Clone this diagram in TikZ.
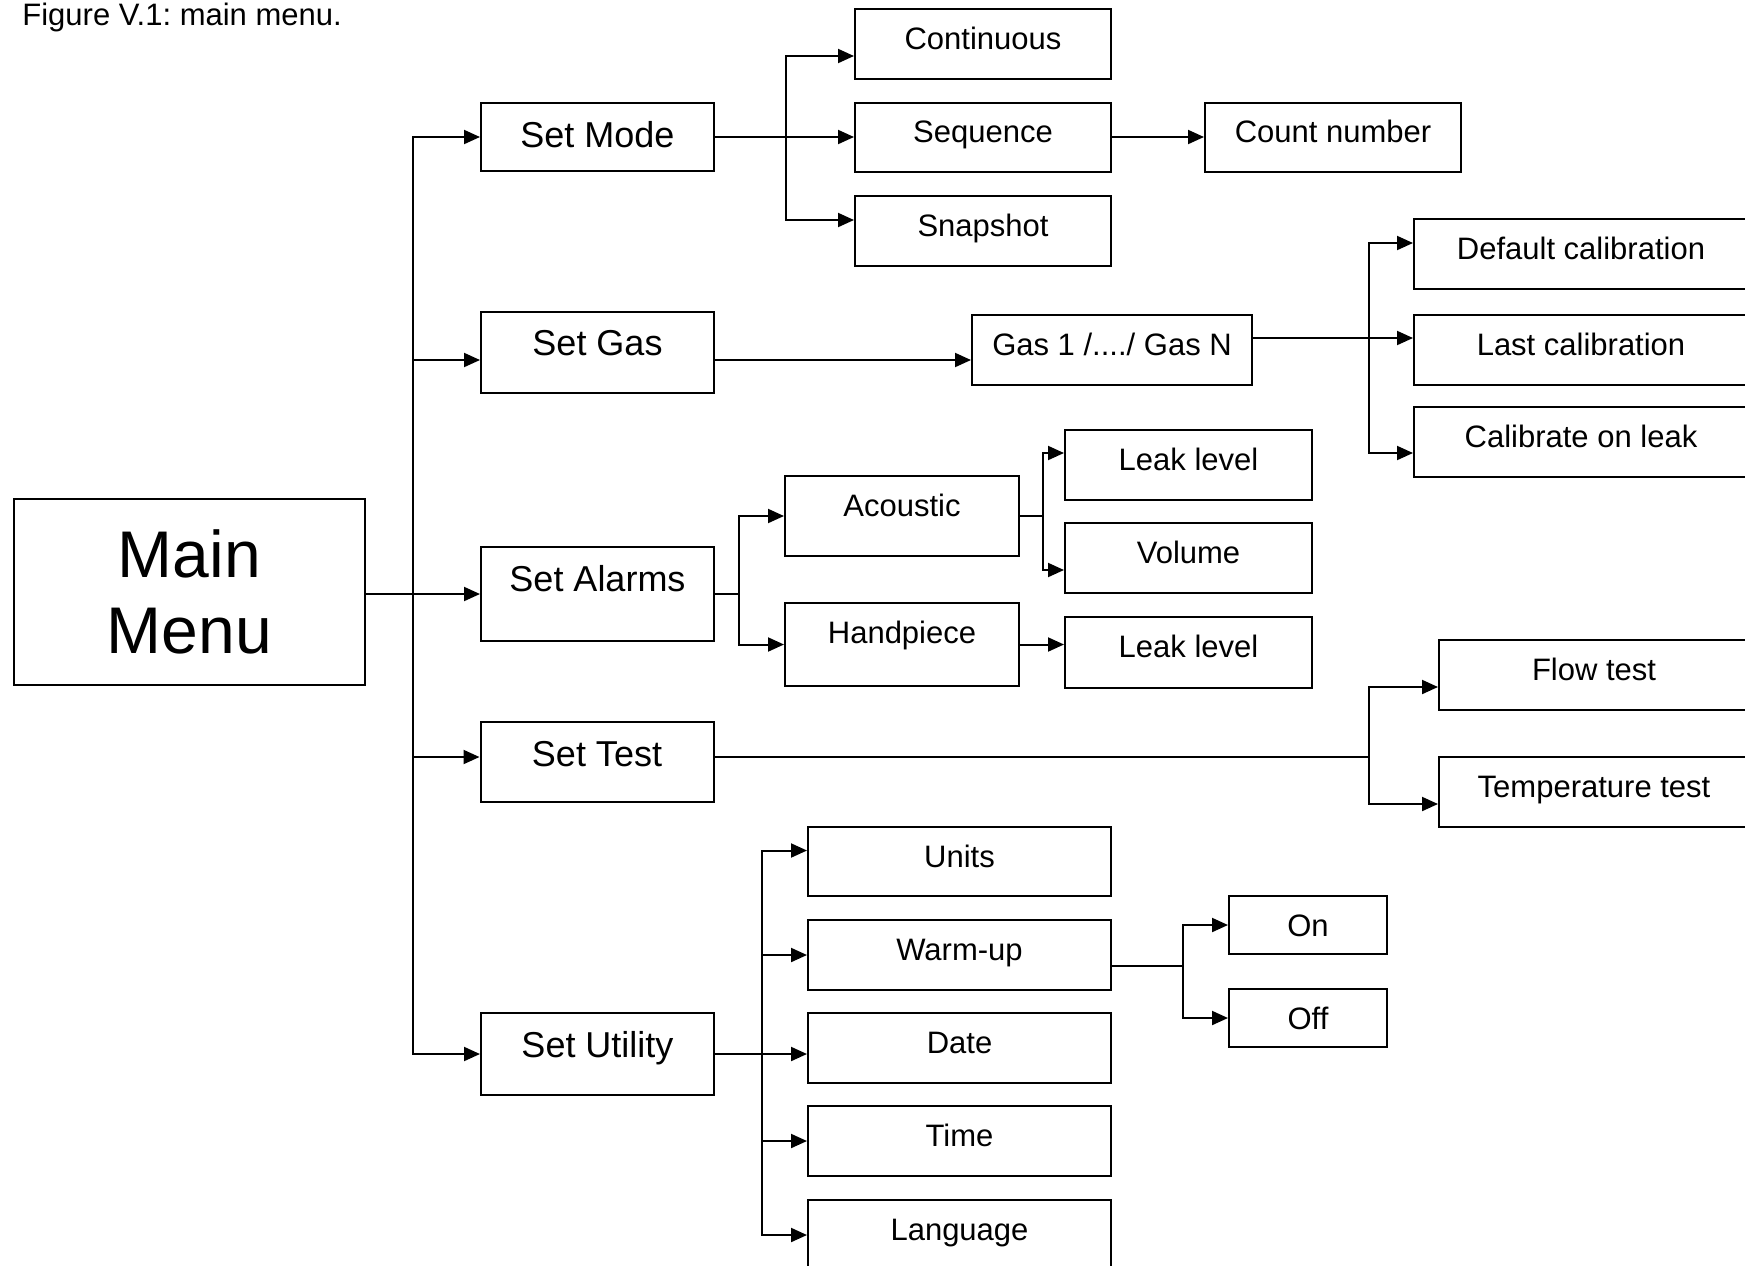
\documentclass[tikz,border=0pt]{standalone}
\usepackage{fontspec}
\setmainfont{Liberation Sans}
\usetikzlibrary{arrows.meta}

\begin{document}
\frenchspacing
\begin{tikzpicture}[x=0.5pt,y=-0.5pt]
	\tikzstyle{every node}+=[inner sep=0pt]
	\tikzstyle{menubox}=[draw=black, line width=1pt]
	\tikzstyle{setbox}=[menubox, font=\fontsize{18}{21.6}\selectfont, minimum width=116.5pt, text height=22pt]
	\tikzstyle{subbox}=[menubox, font=\fontsize{15.5}{18.6}\selectfont, text height=20pt]
	\tikzstyle{link}=[black, line width=1pt, -{Triangle[length=8pt,width=7pt]}]
	\tikzstyle{trunk}=[black, line width=1pt]
	\useasboundingbox (0,0) rectangle (1745,1265);

	\node[anchor=base west, font=\fontsize{15.5}{18.6}\selectfont] (caption) at (22,25.5) {Figure V.1: main menu.};

	% main menu and first level
	\node[menubox, minimum width=175.5pt, minimum height=93pt, align=center, font=\fontsize{33}{38}\selectfont] (main) at (189.5,592) {Main\\Menu};
	\node[setbox, text depth=12pt] (setmode) at (597.5,137) {Set Mode};
	\node[setbox, text depth=18.5pt] (setgas) at (597.5,352) {Set Gas};
	\node[setbox, text depth=25pt] (setalarms) at (597.5,594) {Set Alarms};
	\node[setbox, text depth=18pt] (settest) at (597,762) {Set Test};
	\node[setbox, text depth=19pt] (setutil) at (597.5,1054) {Set Utility};

	% mode
	\node[subbox, minimum width=128pt, text depth=15pt] (cont) at (983,44) {Continuous};
	\node[subbox, minimum width=128pt, text depth=14.5pt] (seq) at (983,137) {Sequence};
	\node[subbox, minimum width=128pt, text depth=15pt] (snap) at (983,231) {Snapshot};
	\node[subbox, minimum width=128pt, text depth=14.5pt] (count) at (1333,137) {Count number};

	% gas
	\node[subbox, minimum width=140pt, text depth=15pt] (gasn) at (1112,350) {Gas 1 /..../ Gas N};
	\node[subbox, minimum width=167pt, text depth=15pt] (defcal) at (1581,254) {Default calibration};
	\node[subbox, minimum width=167pt, text depth=15pt] (lastcal) at (1581,350) {Last calibration};
	\node[subbox, minimum width=167pt, text depth=15pt] (calleak) at (1581,442) {Calibrate on leak};

	% alarms
	\node[subbox, minimum width=117pt, text depth=20pt] (acoustic) at (902,516) {Acoustic};
	\node[subbox, minimum width=117pt, text depth=21.5pt] (handpiece) at (902,644.5) {Handpiece};
	\node[subbox, minimum width=123.5pt, text depth=15pt] (leak1) at (1188.5,465) {Leak level};
	\node[subbox, minimum width=123.5pt, text depth=15pt] (volume) at (1188.5,558) {Volume};
	\node[subbox, minimum width=123.5pt, text depth=15.5pt] (leak2) at (1188.5,652.5) {Leak level};

	% test
	\node[subbox, minimum width=155pt, text depth=15pt] (flow) at (1594,675) {Flow test};
	\node[subbox, minimum width=155pt, text depth=15pt] (temp) at (1594,792) {Temperature test};

	% utility
	\node[subbox, minimum width=151.5pt, text depth=14.5pt] (units) at (959.5,861.5) {Units};
	\node[subbox, minimum width=151.5pt, text depth=15pt] (warmup) at (959.5,955) {Warm-up};
	\node[subbox, minimum width=151.5pt, text depth=15pt] (date) at (959.5,1048) {Date};
	\node[subbox, minimum width=151.5pt, text depth=15pt] (time) at (959.5,1141) {Time};
	\node[subbox, minimum width=151.5pt, text depth=15pt] (lang) at (959.5,1235) {Language};
	\node[subbox, minimum width=79pt, text depth=9pt] (on) at (1308,925) {On};
	\node[subbox, minimum width=79pt, text depth=9pt] (off) at (1308,1018) {Off};

	% split points
	\coordinate (mtrunk) at ([xshift=23.5pt]main.east |- setalarms.west);
	\coordinate (modesplit) at ([xshift=35.5pt]setmode.east);
	\coordinate (gassplit) at ([xshift=58pt,yshift=6pt]gasn.east);
	\coordinate (alarmsplit) at ([xshift=12pt]setalarms.east);
	\coordinate (acousticsplit) at ([xshift=11.5pt]acoustic.east);
	\coordinate (testsplit) at ([xshift=327pt,yshift=2.5pt]settest.east);
	\coordinate (utilsplit) at ([xshift=23.5pt]setutil.east);
	\coordinate (warmsplit) at ([xshift=35.5pt,yshift=-5.5pt]warmup.east);

	% connectors
	\draw[link] (main.east |- setalarms.west) -- (setalarms.west);
	\draw[link] (mtrunk) |- (setmode);
	\draw[link] (mtrunk) |- ([yshift=-4pt]setgas.west);
	\draw[link] (mtrunk) |- ([yshift=2.5pt]settest.west);
	\draw[link] (mtrunk) |- (setutil);

	\draw[link] (setmode.east) -- (setmode.east -| seq.west);
	\draw[link] (modesplit) |- ([yshift=-6pt]cont.west);
	\draw[link] (modesplit) |- ([yshift=5.5pt]snap.west);
	\draw[link] (seq.east) -- (seq.east -| count.west);

	\draw[link] ([yshift=-4pt]setgas.east) -- ([yshift=-4pt]setgas.east -| gasn.west);
	\draw[trunk] (gasn.east |- gassplit) -- (gassplit);
	\draw[link] (gassplit) |- ([yshift=5.5pt]defcal.west);
	\draw[link] (gassplit) |- ([yshift=6pt]lastcal.west);
	\draw[link] (gassplit) |- ([yshift=-5.5pt]calleak.west);

	\draw[trunk] (setalarms.east) -- (alarmsplit);
	\draw[link] (alarmsplit) |- (acoustic);
	\draw[link] (alarmsplit) |- (handpiece);
	\draw[trunk] (acoustic.east) -- (acousticsplit);
	\draw[link] (acousticsplit) |- ([yshift=6pt]leak1.west);
	\draw[link] (acousticsplit) |- ([yshift=-6pt]volume.west);
	\draw[link] (handpiece.east) -- (handpiece.east -| leak2.west);

	\draw[trunk] (settest.east |- testsplit) -- (testsplit);
	\draw[link] (testsplit) |- ([yshift=-6pt]flow.west);
	\draw[link] (testsplit) |- ([yshift=-6pt]temp.west);

	\draw[link] (setutil.east) -- (setutil.east -| date.west);
	\draw[link] (utilsplit) |- ([yshift=5.5pt]units.west);
	\draw[link] (utilsplit) |- (warmup);
	\draw[link] (utilsplit) |- (time);
	\draw[link] (utilsplit) |- (lang);

	\draw[trunk] (warmup.east |- warmsplit) -- (warmsplit);
	\draw[link] (warmsplit) |- (on);
	\draw[link] (warmsplit) |- (off);
\end{tikzpicture}
\end{document}
